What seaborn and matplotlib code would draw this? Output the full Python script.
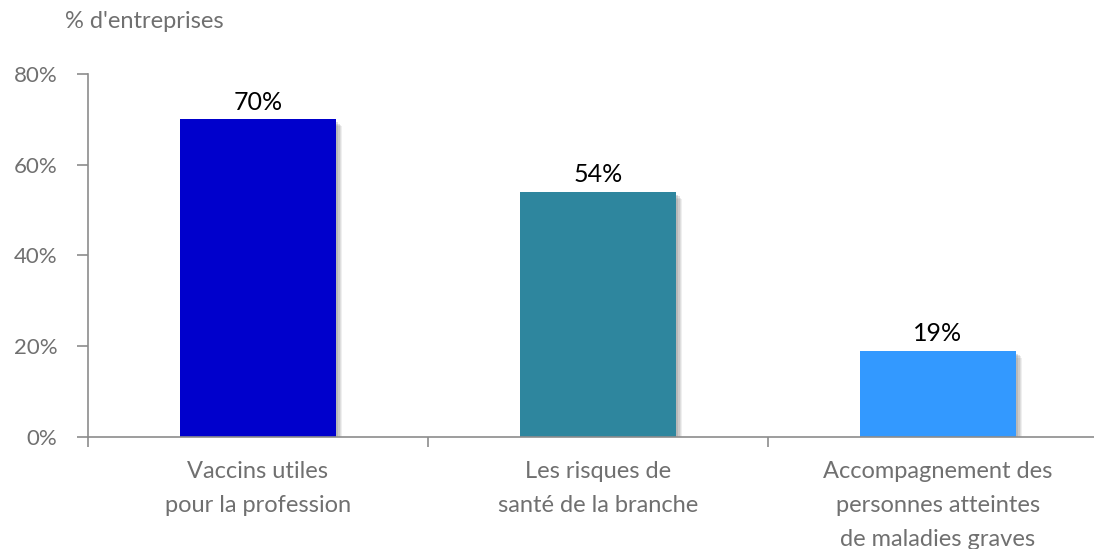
import matplotlib
matplotlib.use('Agg')
import matplotlib.pyplot as plt
import matplotlib.patheffects as pe
from matplotlib.ticker import PercentFormatter
import seaborn as sns
import pandas as pd

categories = [
    'Vaccins utiles\npour la profession',
    'Les risques de\nsanté de la branche',
    'Accompagnement des\npersonnes atteintes\nde maladies graves',
]
values = [70, 54, 19]
bar_colors = ['#0000CC', '#2E869E', '#3399FF']
y_ticks = [0, 20, 40, 60, 80]

sns.set_style('white')
plt.rcParams['font.family'] = ['Lato', 'DejaVu Sans']

df = pd.DataFrame({'categorie': categories, 'pct': values})

fig = plt.figure(figsize=(10.94, 5.49), dpi=100)
ax = fig.add_axes([88 / 1094, 112 / 549, 1020 / 1094, 363 / 549])

sns.barplot(
    data=df,
    x='categorie',
    y='pct',
    hue='categorie',
    palette=bar_colors,
    saturation=1,
    legend=False,
    width=0.456,
    linewidth=0,
    ax=ax,
)

# ombre douce a droite et en bas des barres
shadow = [pe.SimplePatchShadow(offset=(d, -d), shadow_rgbFace='#808080', alpha=a)
          for d, a in [(5, 0.12), (4, 0.15), (3, 0.2), (2, 0.25)]]
for bar in ax.patches:
    bar.set_path_effects(shadow + [pe.Normal()])

for container in ax.containers:
    ax.bar_label(container, labels=[f'{v:.0f}%' for v in container.datavalues],
                 padding=4, fontsize=18, color='black')

ax.set_ylim(0, 80)
ax.set_yticks(y_ticks)
ax.yaxis.set_major_formatter(PercentFormatter(decimals=0))
ax.set_xlim(-0.5, 2.5)
ax.set_xticks([-0.5, 0.5, 1.5])
ax.set_xticks([0, 1, 2], minor=True)
ax.set_xticklabels([])
ax.set_xticklabels(categories, minor=True, linespacing=1.78)
ax.set_xlabel('')
ax.set_ylabel('')

for side in ['top', 'right']:
    ax.spines[side].set_visible(False)
for side in ['left', 'bottom']:
    ax.spines[side].set_color('#8c8c8c')
    ax.spines[side].set_linewidth(1.2)

ax.tick_params(axis='y', which='major', direction='out', length=8, width=1.2,
               color='#8c8c8c', labelsize=16, labelcolor='#707070', pad=14, left=True)
ax.tick_params(axis='x', which='major', direction='out', length=7, width=1.2,
               color='#8c8c8c', bottom=True)
ax.tick_params(axis='x', which='minor', length=0, labelsize=17,
               labelcolor='#707070', pad=17)

fig.text(65 / 1094, 1 - 21 / 549, "% d'entreprises", fontsize=17,
         color='#707070', va='center', ha='left')

fig.savefig('out.png', dpi=100)
